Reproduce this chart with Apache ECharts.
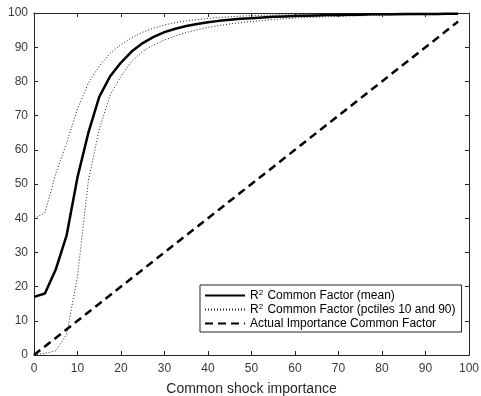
<!DOCTYPE html>
<html>
<head>
<meta charset="utf-8">
<script src="https://cdn.jsdelivr.net/npm/echarts@6/dist/echarts.min.js"></script>
<style>
  html, body { margin: 0; padding: 0; background: #fff; }
  #chart { width: 481px; height: 396px; }
</style>
</head>
<body>
<div id="chart"></div>
<script>
// shock importance grid (x)
const importance = [0, 2.5, 5, 7.5, 10, 12.5, 15, 17.5, 20, 22.5, 25, 27.5, 30, 32.5, 35, 37.5, 40, 42.5, 45, 47.5,
  50, 52.5, 55, 57.5, 60, 62.5, 65, 67.5, 70, 72.5, 75, 77.5, 80, 82.5, 85, 87.5, 90, 92.5, 95, 97.5];

// R^2 of the common factor, mean over draws
const r2Mean = [17, 18, 25, 35, 52, 65, 75.5, 81.5, 85.5, 88.8, 91.2, 93, 94.4, 95.4, 96.2, 96.8, 97.3, 97.7, 98, 98.3,
  98.5, 98.7, 98.9, 99, 99.1, 99.2, 99.3, 99.4, 99.4, 99.5, 99.5, 99.6, 99.6, 99.6, 99.7, 99.7, 99.7, 99.7, 99.8, 99.8];

// 90th percentile
const r2P90 = [40, 41.5, 53, 62, 72, 79.5, 84.5, 88.2, 90.8, 92.8, 94.4, 95.6, 96.5, 97.2, 97.7, 98.1, 98.4, 98.7, 98.9, 99.1,
  99.2, 99.3, 99.4, 99.5, 99.5, 99.6, 99.6, 99.7, 99.7, 99.7, 99.8, 99.8, 99.8, 99.8, 99.8, 99.9, 99.9, 99.9, 99.9, 99.9];

// 10th percentile
const r2P10 = [0, 0.5, 1.2, 6, 23, 51, 66, 76, 81.5, 86, 88.8, 90.7, 92.1, 93.3, 94.3, 95.1, 95.8, 96.3, 96.8, 97.2,
  97.5, 97.8, 98.1, 98.3, 98.5, 98.7, 98.8, 98.9, 99, 99.1, 99.2, 99.3, 99.3, 99.4, 99.4, 99.5, 99.5, 99.5, 99.6, 99.6];

// actual importance of the common factor
const actual = [0, 2.5, 5, 7.5, 10, 12.5, 15, 17.5, 20, 22.5, 25, 27.5, 30, 32.5, 35, 37.5, 40, 42.5, 45, 47.5,
  50, 52.5, 55, 57.5, 60, 62.5, 65, 67.5, 70, 72.5, 75, 77.5, 80, 82.5, 85, 87.5, 90, 92.5, 95, 97.5];

const NAME_MEAN = "R2 Common Factor (mean)";
const NAME_PCT = "R2 Common Factor (pctiles 10 and 90)";
const NAME_ACT = "Actual Importance Common Factor";

const font = "Liberation Sans";
const axisColor = "#262626";

const pairs = ys => importance.map((x, i) => [x, ys[i]]);

function axis(pos, showLabel) {
  const isX = pos === "bottom" || pos === "top";
  return {
    type: "value",
    position: pos,
    min: 0, max: 100, interval: 10,
    axisLine: { show: true, onZero: false, lineStyle: { color: axisColor, width: 1 } },
    axisTick: { show: true, inside: true, length: 4, lineStyle: { color: axisColor } },
    axisLabel: {
      show: showLabel, color: "#3a3a3a", fontSize: 12, fontFamily: font,
      margin: isX ? 8 : 6
    },
    splitLine: { show: false }
  };
}

const chart = echarts.init(document.getElementById("chart"), null, { renderer: "canvas" });

const xBottom = axis("bottom", true);
xBottom.name = "Common shock importance";
xBottom.nameLocation = "middle";
xBottom.nameGap = 27;
xBottom.nameTextStyle = { color: axisColor, fontSize: 14, fontFamily: font };

chart.setOption({
  animation: false,
  backgroundColor: "#fff",
  // v6 would otherwise shrink the grid to keep labels inside
  grid: { left: 34, right: 12, top: 13, bottom: 41, containLabel: false, outerBoundsMode: "none" },
  xAxis: [xBottom, axis("top", false)],
  yAxis: [axis("left", true), axis("right", false)],
  legend: {
    left: 200, top: 285,
    orient: "vertical",
    selectedMode: false,
    backgroundColor: "#fff",
    borderColor: axisColor,
    borderWidth: 1,
    borderRadius: 0,
    padding: [4, 6, 2, 4],
    itemWidth: 40,
    itemHeight: 10,
    itemGap: 1,
    itemStyle: { opacity: 0 },
    data: [NAME_MEAN, NAME_PCT, NAME_ACT],
    formatter: name => name.replace(/^R2/, "R{sup|2}"),
    textStyle: {
      color: "#000", fontSize: 12, fontFamily: font, lineHeight: 13,
      rich: {
        sup: { fontSize: 8, fontFamily: font, color: "#000", lineHeight: 13, verticalAlign: "top", padding: [0, 1, 0, 0] }
      }
    }
  },
  series: [
    {
      name: NAME_ACT, type: "line", data: pairs(actual),
      symbol: "none", z: 3,
      lineStyle: { color: "#000", width: 2.5, type: [8, 5] }
    },
    {
      name: NAME_PCT, type: "line", data: pairs(r2P90),
      symbol: "none", z: 4,
      lineStyle: { color: "#222", width: 1, type: [1, 2] }
    },
    {
      name: NAME_PCT, type: "line", data: pairs(r2P10),
      symbol: "none", z: 4,
      lineStyle: { color: "#222", width: 1, type: [1, 2] }
    },
    {
      name: NAME_MEAN, type: "line", data: pairs(r2Mean),
      symbol: "none", z: 5,
      lineStyle: { color: "#000", width: 2.5 }
    }
  ]
});
</script>
</body>
</html>
